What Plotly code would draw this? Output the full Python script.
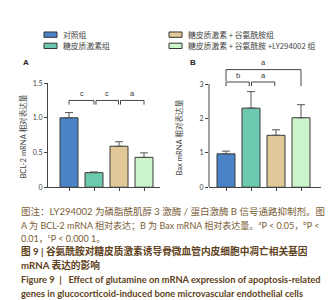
import plotly.graph_objects as go

groups = ["对照组", "糖皮质激素组", "糖皮质激素 + 谷氨酰胺组", "糖皮质激素 + 谷氨酰胺 +LY294002 组"]
colors = ["#4a84c6", "#6cc8ae", "#e0c898", "#ccf5cc"]
bcl2_mean = [1.00, 0.21, 0.59, 0.43]
bcl2_err = [0.075, 0.01, 0.065, 0.065]
bax_mean = [0.97, 2.30, 1.51, 2.02]
bax_err = [0.08, 0.48, 0.16, 0.38]
a_ticks = [0, 0.5, 1.0, 1.5]
a_ticktext = ["0", "0.5", "1.0", "1.5"]
b_ticks = [0, 1, 2, 3]

W, H = 333, 300
def px(x): return x / W
def py(y): return 1 - y / H

fig = go.Figure()
for i, g in enumerate(groups):
    fig.add_trace(go.Bar(x=[i], y=[bcl2_mean[i]], width=0.72, marker=dict(color=colors[i], line=dict(color="#3a3a3a", width=1)),
                         error_y=dict(type="data", symmetric=False, array=[bcl2_err[i]], arrayminus=[0], color="#555", thickness=1, width=4),
                         xaxis="x", yaxis="y", showlegend=False, name=g))
    fig.add_trace(go.Bar(x=[i], y=[bax_mean[i]], width=0.72, marker=dict(color=colors[i], line=dict(color="#3a3a3a", width=1)),
                         error_y=dict(type="data", symmetric=False, array=[bax_err[i]], arrayminus=[0], color="#555", thickness=1, width=4),
                         xaxis="x2", yaxis="y2", showlegend=False, name=g))

axfont = dict(family="Lato, Noto Sans CJK SC", size=7, color="#444")
fig.update_layout(
    width=W, height=H, margin=dict(l=0, r=0, t=0, b=0),
    paper_bgcolor="white", plot_bgcolor="white", barmode="overlay",
    xaxis=dict(domain=[px(40), px(152)], range=[-0.84, 3.64], showline=True, linecolor="#444", linewidth=1,
               ticks="outside", ticklen=3, tickcolor="#444", tickvals=[0, 1, 2, 3], showticklabels=False,
               showgrid=False, zeroline=False, fixedrange=True),
    yaxis=dict(domain=[py(179), py(72)], range=[0, 1.5], showline=True, linecolor="#444", linewidth=1,
               ticks="outside", ticklen=3, tickcolor="#444", tickvals=a_ticks, ticktext=a_ticktext,
               tickfont=axfont, showgrid=False, zeroline=False),
    xaxis2=dict(domain=[px(201), px(313)], range=[-0.68, 3.8], showline=True, linecolor="#444", linewidth=1,
                ticks="outside", ticklen=3, tickcolor="#444", tickvals=[0, 1, 2, 3], showticklabels=False,
                showgrid=False, zeroline=False, anchor="y2"),
    yaxis2=dict(domain=[py(179), py(51.8)], range=[0, 3.6], showline=False,
                ticks="outside", ticklen=3, tickcolor="#444", tickvals=b_ticks,
                tickfont=axfont, showgrid=False, zeroline=False, anchor="x2"),
)

shapes = []
# manual y axis line for B (0..3)
shapes.append(dict(type="line", xref="x2 domain", yref="y2", x0=0, x1=0, y0=0, y1=3, line=dict(color="#444", width=1)))

def bracket(xr, yr, x0, x1, ytop, yl, yr_):
    return dict(type="path", xref=xr, yref=yr,
                path=f"M {x0} {yl} L {x0} {ytop} L {x1} {ytop} L {x1} {yr_}",
                line=dict(color="#444", width=1))

# Panel A brackets
shapes.append(bracket("x", "y", 0, 1.0, 1.25, 1.19, 1.19))
shapes.append(bracket("x", "y", 1.08, 1.98, 1.25, 1.19, 1.19))
shapes.append(bracket("x", "y", 2.06, 3.0, 1.25, 1.19, 1.19))
# Panel B brackets
shapes.append(bracket("x2", "y2", 0, 0.93, 3.06, 2.94, 2.94))
shapes.append(bracket("x2", "y2", 1.02, 1.95, 3.06, 2.94, 2.94))
shapes.append(bracket("x2", "y2", 0, 3.0, 3.42, 3.09, 2.94))

# legend swatches
leg_pos = [(36, 19.5), (36, 31), (161, 19.5), (161, 31)]
for (lx, ly), c in zip(leg_pos, colors):
    shapes.append(dict(type="rect", xref="paper", yref="paper", x0=px(lx), x1=px(lx + 13), y0=py(ly), y1=py(ly + 5.5),
                       fillcolor=c, line=dict(color="#333", width=1)))
fig.update_layout(shapes=shapes)

ann = []
lfont = dict(family="Noto Sans CJK SC", size=7.8, color="#444")
for (lx, ly), g in zip(leg_pos, groups):
    ann.append(dict(xref="paper", yref="paper", x=px(lx + 17), y=py(ly + 2.8), text=g, showarrow=False,
                    xanchor="left", yanchor="middle", font=lfont))

sfont = dict(family="Liberation Sans", size=7.5, color="#333")
for xx, t in [(0.5, "c"), (1.53, "c"), (2.53, "a")]:
    ann.append(dict(xref="x", yref="y", x=xx, y=1.255, text=t, showarrow=False, yanchor="bottom", font=sfont))
for xx, yy, t in [(0.46, 3.07, "b"), (1.48, 3.07, "a"), (1.5, 3.43, "a")]:
    ann.append(dict(xref="x2", yref="y2", x=xx, y=yy, text=t, showarrow=False, yanchor="bottom", font=sfont))

pfont = dict(family="Liberation Sans", size=8, color="#222")
ann.append(dict(xref="paper", yref="paper", x=px(13), y=py(51), text="<b>A</b>", showarrow=False, xanchor="left", yanchor="middle", font=pfont))
ann.append(dict(xref="paper", yref="paper", x=px(180), y=py(51), text="<b>B</b>", showarrow=False, xanchor="left", yanchor="middle", font=pfont))

tfont = dict(family="Lato, Noto Sans CJK SC", size=7.6, color="#444")
ann.append(dict(xref="paper", yref="paper", x=px(15), y=py(127), text="BCL-2 mRNA 相对表达量", textangle=-90,
                showarrow=False, xanchor="center", yanchor="middle", font=tfont))
ann.append(dict(xref="paper", yref="paper", x=px(171), y=py(128), text="Bax mRNA 相对表达量", textangle=-90,
                showarrow=False, xanchor="center", yanchor="middle", font=tfont))

cap_color = "#7a5c36"
cfont1 = dict(family="Lato, Noto Sans CJK SC", size=9.5, color=cap_color)
cfont = dict(family="Lato, Noto Sans CJK SC", size=9.0, color=cap_color)
bfont = dict(family="Lato, Noto Sans CJK SC", size=9.7, color="#5e4220")
efont = dict(family="Lato", size=9.3, color="#5e4220")
cap_lines = [
    (204, "图注：LY294002 为磷脂酰肌醇 3 激酶 / 蛋白激酶 B 信号通路抑制剂。图", cfont1),
    (218, "A 为 BCL-2 mRNA 相对表达；B 为 Bax mRNA 相对表达量。<sup>a</sup>P < 0.05，<sup>b</sup>P <", cfont),
    (231, "0.01，<sup>c</sup>P < 0.000 1。", cfont),
    (245, "<b>图 9 | 谷氨酰胺对糖皮质激素诱导骨微血管内皮细胞中凋亡相关基因</b>", bfont),
    (259, "<b>mRNA 表达的影响</b>", bfont),
    (274, "<b>Figure 9  |   Effect of glutamine on mRNA expression of apoptosis-related</b>", efont),
    (288, "<b>genes in glucocorticoid-induced bone microvascular endothelial cells</b>", efont),
]
for y, t, f in cap_lines:
    ann.append(dict(xref="paper", yref="paper", x=px(11), y=py(y), text=t, showarrow=False,
                    xanchor="left", yanchor="middle", font=f))

fig.update_layout(annotations=ann)
fig.write_html("out.html")
